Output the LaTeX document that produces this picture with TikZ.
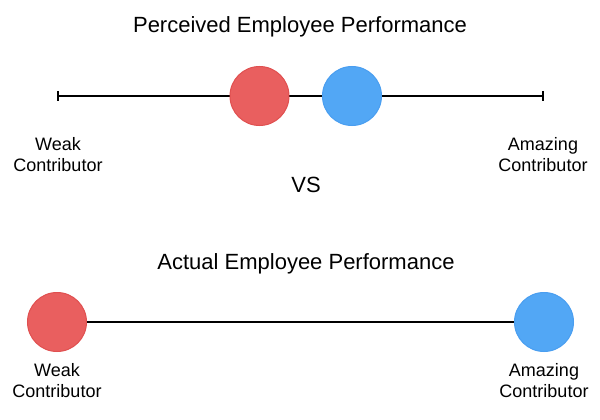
\documentclass[tikz,border=0pt]{standalone}
\usepackage{fontspec}
\setmainfont{Liberation Sans}
\definecolor{redfill}{RGB}{233,95,95}
\definecolor{redline}{RGB}{224,80,80}
\definecolor{bluefill}{RGB}{82,167,245}
\definecolor{blueline}{RGB}{74,158,240}
\begin{document}
\begin{tikzpicture}[x=1pt,y=1pt,
  titletext/.style={font=\fontsize{22}{26}\selectfont, anchor=base, inner sep=0pt},
  labeltext/.style={font=\fontsize{18}{21}\selectfont, align=center, anchor=north, inner sep=0pt},
  reddot/.style={circle, minimum size=59pt, inner sep=0pt, draw=redline, fill=redfill, line width=1pt},
  bluedot/.style={circle, minimum size=59pt, inner sep=0pt, draw=blueline, fill=bluefill, line width=1pt},
  axis/.style={line width=1.1pt, black}
]
\useasboundingbox (0,0) rectangle (600,-420);
% top
\node[titletext] (t1) at (300,-33) {Perceived Employee Performance};
\coordinate (tl) at (58,-96);
\coordinate (tr) at (543,-96);
\draw[axis] (tl) -- (tr);
\draw[axis] ([yshift=5pt]tl) -- ([yshift=-5pt]tl);
\draw[axis] ([yshift=5pt]tr) -- ([yshift=-5pt]tr);
\node[reddot] (r1) at (259.5,-96) {};
\node[bluedot] (b1) at (352,-96) {};
\node[labeltext] (l1) at (58,-137) {Weak\\Contributor};
\node[labeltext] (l2) at (543,-137) {Amazing\\Contributor};
\node[titletext] (vs) at (306,-192) {VS};
% bottom
\node[titletext] (t2) at (306,-269) {Actual Employee Performance};
\node[reddot] (r2) at (57,-322) {};
\node[bluedot] (b2) at (544,-322) {};
\draw[axis] (r2.east) -- (b2.west);
\node[labeltext] (l3) at (57,-363) {Weak\\Contributor};
\node[labeltext] (l4) at (544,-363) {Amazing\\Contributor};
\end{tikzpicture}
\end{document}
